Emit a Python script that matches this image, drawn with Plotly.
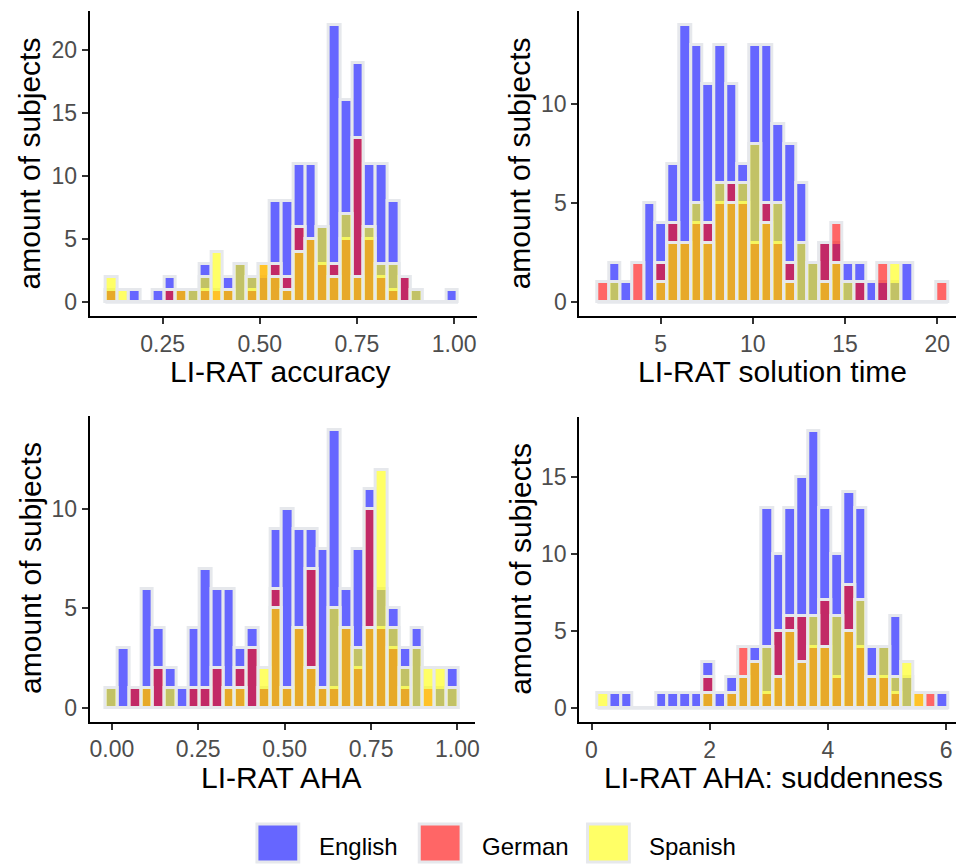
import numpy as np
import plotly.graph_objects as go

W, H = 962, 866
FONT = "Liberation Sans, Arial, Helvetica, sans-serif"

languages = ["English", "German", "Spanish"]
fill_colors = ["rgba(0,0,255,0.6)", "rgba(255,0,0,0.6)", "rgba(255,255,0,0.6)"]
BORDER = "#E6E8EC"

# ---- Panel 1: LI-RAT accuracy (30 bins, centres from min to max) ----
acc_range = (0.118, 0.995)
acc_english = [1,0,1,0,1,2,1,1,3,0,2,3,2,2,8,8,11,11,6,22,16,19,11,11,8,2,1,0,0,1]
acc_german  = [1,0,0,0,0,1,1,0,1,1,1,0,1,3,3,2,6,5,3,3,5,13,5,2,1,2,0,0,0,0]
acc_spanish = [2,1,0,0,0,0,1,1,2,4,1,3,2,3,2,1,4,5,6,2,7,2,6,3,3,0,1,0,0,0]

# ---- Panel 2: LI-RAT solution time ----
time_range = (1.89, 20.26)
time_english = [0,2,1,0,5,4,7,14,13,11,13,11,7,13,13,9,8,6,2,3,3,2,2,1,1,1,2,0,0,0]
time_german  = [1,0,0,2,0,2,4,3,4,4,5,6,5,3,5,3,2,0,0,3,4,0,1,0,2,0,0,0,0,1]
time_spanish = [0,1,0,0,0,1,3,3,5,3,6,5,6,8,4,5,1,3,2,1,2,1,0,0,0,2,0,0,0,0]

# ---- Panel 3: LI-RAT AHA ----
aha_range = (0.0, 0.985)
aha_english = [1,3,1,6,4,2,1,4,7,6,6,3,4,1,9,10,9,9,8,14,6,8,11,6,5,3,4,0,1,2]
aha_german  = [0,0,1,1,2,0,0,1,1,2,1,2,3,1,6,1,4,7,1,1,4,2,10,4,3,1,0,1,0,0]
aha_spanish = [1,0,0,1,0,1,0,0,0,0,1,1,0,2,5,1,4,2,1,5,4,3,4,12,4,2,3,2,2,1]

# ---- Panel 4: LI-RAT AHA: suddenness ----
sud_range = (0.2, 5.94)
sud_english = [0,1,1,0,0,1,1,1,1,3,1,2,2,4,13,10,13,15,18,13,10,14,13,4,4,6,2,0,0,1]
sud_german  = [0,0,0,0,0,0,0,0,0,2,0,1,4,3,1,5,6,6,4,7,2,8,4,2,2,1,0,1,1,0]
sud_spanish = [1,0,0,0,0,0,0,0,0,1,0,1,2,3,4,2,5,3,6,4,6,5,7,2,4,2,3,1,0,0]

x_titles = ["LI-RAT accuracy", "LI-RAT solution time", "LI-RAT AHA", "LI-RAT AHA: suddenness"]
y_title = "amount of subjects"

x_tickvals = [[0.25, 0.5, 0.75, 1.0], [5, 10, 15, 20], [0, 0.25, 0.5, 0.75, 1.0], [0, 2, 4, 6]]
x_ticktext = [["0.25", "0.50", "0.75", "1.00"], ["5", "10", "15", "20"],
              ["0.00", "0.25", "0.50", "0.75", "1.00"], ["0", "2", "4", "6"]]
y_tickvals = [[0, 5, 10, 15, 20], [0, 5, 10], [0, 5, 10], [0, 5, 10, 15]]

panels = [
    (acc_range, [acc_english, acc_german, acc_spanish]),
    (time_range, [time_english, time_german, time_spanish]),
    (aha_range, [aha_english, aha_german, aha_spanish]),
    (sud_range, [sud_english, sud_german, sud_spanish]),
]

# layout geometry (pixels)
x_dom_px = [(90, 479), (581.7, 960), (90, 477.4), (581.7, 960)]
y_dom_px = [(11, 316), (11, 316), (416, 721.5), (417, 722)]
x_ranges = [(0.0622, 1.059), (0.594, 21.02), (-0.0643, 1.052), (-0.207, 6.168)]
y_ranges = [(-1.1, 23.1), (-0.7, 14.7), (-0.7, 14.7), (-0.9, 18.9)]


def px_x(p):
    return p / W


def px_y(p):
    return 1 - p / H


fig = go.Figure()

for p, ((lo, hi), series) in enumerate(panels):
    n = len(series[0])
    centers = np.linspace(lo, hi, n)
    width = (hi - lo) / (n - 1)
    xa = "x" if p == 0 else f"x{p+1}"
    ya = "y" if p == 0 else f"y{p+1}"
    # baseline outline of empty bins
    fig.add_trace(go.Scatter(x=[centers[0] - width / 2, centers[-1] + width / 2], y=[0, 0],
                             mode="lines", line=dict(color=BORDER, width=3),
                             xaxis=xa, yaxis=ya, showlegend=False, hoverinfo="skip"))
    for lang, col, counts in zip(languages, fill_colors, series):
        fig.add_trace(go.Bar(x=centers, y=counts, width=width, name=lang,
                             marker=dict(color=col, line=dict(color=BORDER, width=3)),
                             xaxis=xa, yaxis=ya, showlegend=False))

layout = dict(width=W, height=H, margin=dict(l=0, r=0, t=0, b=0),
              paper_bgcolor="white", plot_bgcolor="white",
              barmode="overlay", bargap=0, font=dict(family=FONT), showlegend=False)

axis_common = dict(showline=True, linecolor="black", linewidth=2, ticks="outside",
                   ticklen=6, tickwidth=2, tickcolor="#333333", showgrid=False,
                   zeroline=False, tickfont=dict(size=23, color="#4D4D4D", family=FONT),
                   fixedrange=True)

for p in range(4):
    xk = "xaxis" if p == 0 else f"xaxis{p+1}"
    yk = "yaxis" if p == 0 else f"yaxis{p+1}"
    ya = "y" if p == 0 else f"y{p+1}"
    xa = "x" if p == 0 else f"x{p+1}"
    layout[xk] = dict(axis_common, domain=[px_x(x_dom_px[p][0]), px_x(x_dom_px[p][1])],
                      range=list(x_ranges[p]), tickvals=x_tickvals[p], ticktext=x_ticktext[p],
                      anchor=ya)
    layout[yk] = dict(axis_common, domain=[px_y(y_dom_px[p][1]), px_y(y_dom_px[p][0])],
                      range=list(y_ranges[p]), tickvals=y_tickvals[p],
                      ticktext=[str(v) for v in y_tickvals[p]], anchor=xa)

annotations = []
# axis titles
x_title_pos = [(282, 372), (776, 372), (283, 777), (777, 777)]
y_title_pos = [(30, 163.5), (522, 163.5), (30, 568), (522, 569)]
for p in range(4):
    annotations.append(dict(text=x_titles[p], x=px_x(x_title_pos[p][0]), y=px_y(x_title_pos[p][1]),
                            xref="paper", yref="paper", showarrow=False, xanchor="center",
                            yanchor="middle", font=dict(size=30, color="black", family=FONT)))
    annotations.append(dict(text=y_title, x=px_x(y_title_pos[p][0]), y=px_y(y_title_pos[p][1]),
                            xref="paper", yref="paper", showarrow=False, xanchor="center",
                            yanchor="middle", textangle=-90,
                            font=dict(size=30, color="black", family=FONT)))

# legend (manual keys)
key_x = [258, 421, 590]
label_x = [318, 482, 650]
key_colors = ["#6666FF", "#FF6666", "#FFFF66"]
shapes = []
for kx, lx, kc, lang in zip(key_x, label_x, key_colors, languages):
    shapes.append(dict(type="rect", xref="paper", yref="paper",
                       x0=px_x(kx), x1=px_x(kx + 42), y0=px_y(862), y1=px_y(824),
                       fillcolor=kc, line=dict(color=BORDER, width=3)))
    annotations.append(dict(text=lang, x=px_x(lx), y=px_y(846), xref="paper", yref="paper",
                            showarrow=False, xanchor="left", yanchor="middle",
                            font=dict(size=24, color="black", family=FONT)))

layout["annotations"] = annotations
layout["shapes"] = shapes
fig.update_layout(**layout)
fig.write_html("out.html")
